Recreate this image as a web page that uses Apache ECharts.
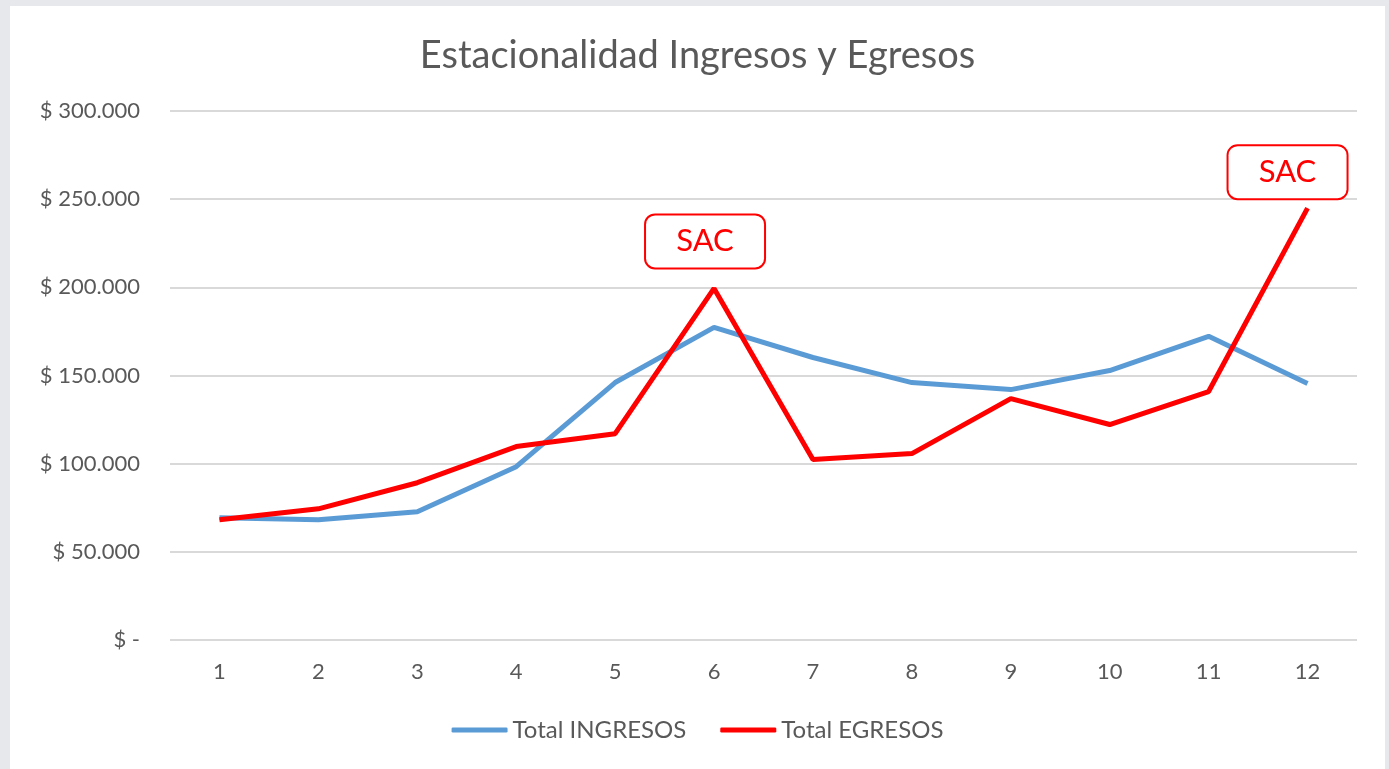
<!DOCTYPE html>
<html>
<head>
<meta charset="utf-8">
<script src="https://cdn.jsdelivr.net/npm/echarts@6/dist/echarts.min.js"></script>
<style>
  html, body { margin: 0; padding: 0; background: #e6e8eb; width: 1389px; height: 769px; overflow: hidden; }
  #chart { position: absolute; left: 10px; top: 6px; width: 1375px; height: 763px; background: #ffffff; }
</style>
</head>
<body>
<div id="chart"></div>
<script>
const categories = ['1','2','3','4','5','6','7','8','9','10','11','12'];
const ingresos = [69300, 68200, 72700, 98300, 146000, 177300, 160200, 146000, 142000, 152800, 172200, 145500];
const egresos = [68200, 74400, 89200, 109700, 117000, 199400, 102300, 105700, 136900, 122200, 140900, 244900];
const sacMonths = ['6', '12'];
const yTicks = [0, 50000, 100000, 150000, 200000, 250000, 300000];

const font = 'Lato, "Open Sans", sans-serif';
const grey = '#595959';

function fmt(v) {
  if (v === 0) return '$ -';
  return '$ ' + String(v).replace(/\B(?=(\d{3})+(?!\d))/g, '.');
}

const sacOffsets = [[-9, -47], [-20, -36]];
const sacPoints = sacMonths.map((m, k) => {
  const i = categories.indexOf(m);
  return { coord: [m, egresos[i]], value: 'SAC', label: { offset: sacOffsets[k] } };
});

const chart = echarts.init(document.getElementById('chart'));
chart.setOption({
  animation: false,
  title: {
    text: 'Estacionalidad Ingresos y Egresos',
    left: 'center', top: 26,
    textStyle: { fontFamily: font, fontSize: 38, fontWeight: 'normal', color: grey }
  },
  legend: {
    bottom: 22, left: 'center',
    itemWidth: 56, itemHeight: 5, itemGap: 34,
    icon: 'roundRect',
    textStyle: { fontFamily: font, fontSize: 24, color: grey },
    data: ['Total INGRESOS', 'Total EGRESOS']
  },
  grid: { left: 160, right: 28, top: 105, bottom: 129, containLabel: false },
  xAxis: {
    type: 'category', data: categories, boundaryGap: true,
    axisLine: { show: false }, axisTick: { show: false },
    axisLabel: { fontFamily: font, fontSize: 22, color: grey, margin: 21 }
  },
  yAxis: {
    type: 'value', min: yTicks[0], max: yTicks[yTicks.length - 1], interval: 50000,
    axisLine: { show: false }, axisTick: { show: false },
    axisLabel: { fontFamily: font, fontSize: 22, color: grey, margin: 30, formatter: fmt },
    splitLine: { lineStyle: { color: '#d9d9d9', width: 2 } }
  },
  series: [
    {
      name: 'Total INGRESOS', type: 'line', data: ingresos,
      symbol: 'none', lineStyle: { color: '#5b9bd5', width: 5 }, itemStyle: { color: '#5b9bd5' }
    },
    {
      name: 'Total EGRESOS', type: 'line', data: egresos, z: 3,
      symbol: 'none', lineStyle: { color: '#ff0000', width: 5 }, itemStyle: { color: '#ff0000' },
      markPoint: {
        symbol: 'circle', symbolSize: 1,
        itemStyle: { color: 'rgba(0,0,0,0)' },
        label: {
          show: true, position: 'inside', formatter: 'SAC',
          color: '#ff0000', fontFamily: font, fontSize: 31,
          backgroundColor: '#ffffff', borderColor: '#ff0000', borderWidth: 2, borderRadius: 9,
          width: 118, height: 52, lineHeight: 52, align: 'center', verticalAlign: 'middle'
        },
        data: sacPoints
      }
    }
  ]
});
</script>
</body>
</html>
